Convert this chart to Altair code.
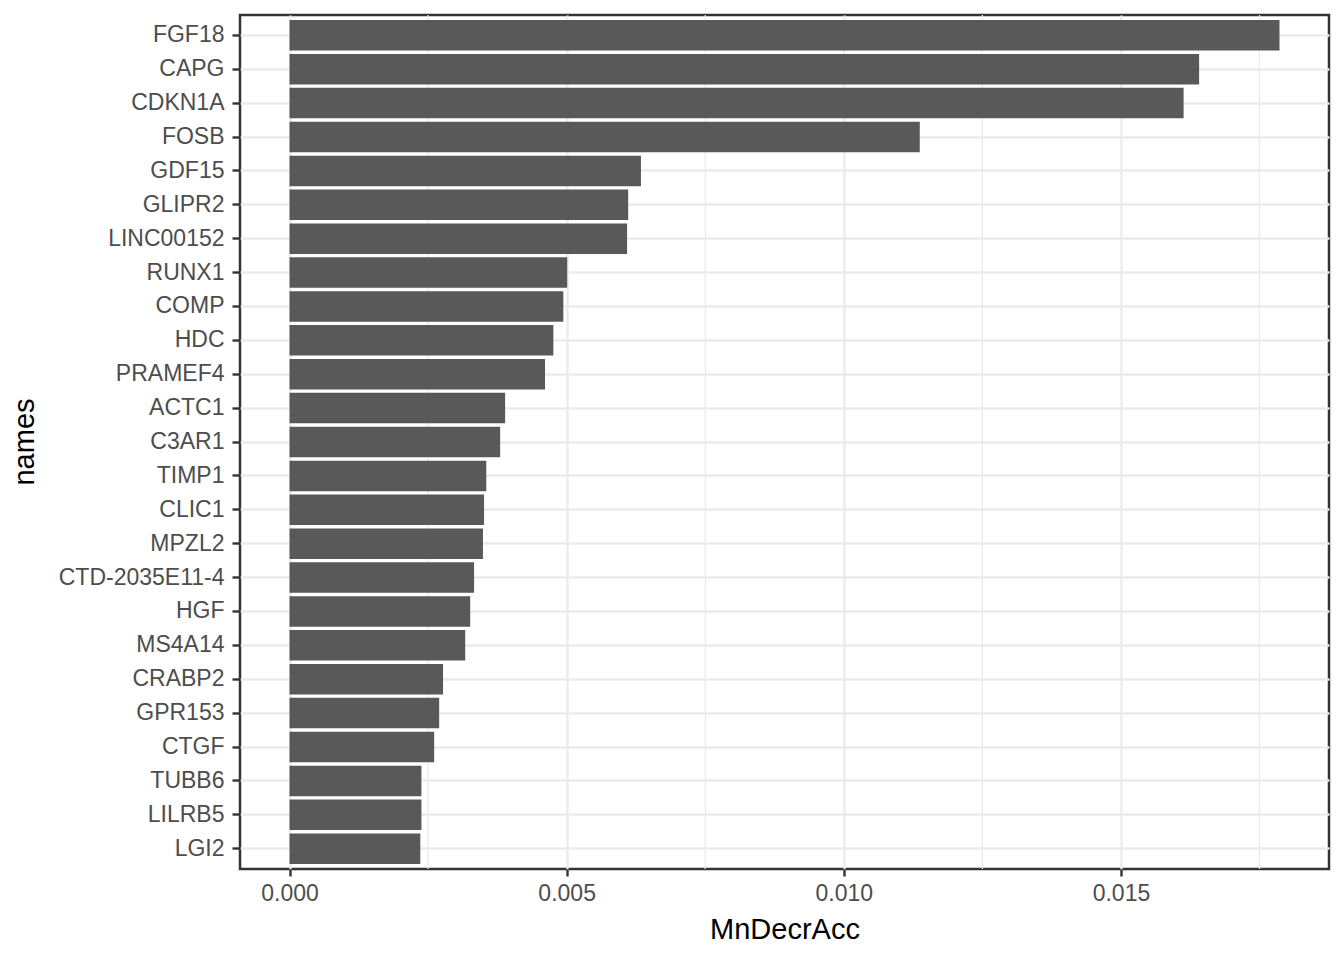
import altair as alt
import pandas as pd

names = ["FGF18", "CAPG", "CDKN1A", "FOSB", "GDF15", "GLIPR2", "LINC00152",
         "RUNX1", "COMP", "HDC", "PRAMEF4", "ACTC1", "C3AR1", "TIMP1", "CLIC1",
         "MPZL2", "CTD-2035E11-4", "HGF", "MS4A14", "CRABP2", "GPR153", "CTGF",
         "TUBB6", "LILRB5", "LGI2"]
mn_decr_acc = [0.01786, 0.01641, 0.01613, 0.01137, 0.00634, 0.00611, 0.00609,
               0.00501, 0.00494, 0.00476, 0.00461, 0.00389, 0.00380, 0.00355,
               0.00351, 0.00349, 0.00333, 0.00326, 0.00317, 0.00277, 0.00270,
               0.00261, 0.00238, 0.00238, 0.00236]
major_breaks = [0.0, 0.005, 0.010, 0.015]
minor_breaks = [0.0025, 0.0075, 0.0125, 0.0175]

df = pd.DataFrame({"names": names, "MnDecrAcc": mn_decr_acc})
minor_df = pd.DataFrame({"v": minor_breaks})

vmax = max(mn_decr_acc)
expand = 0.05 * vmax
xscale = alt.Scale(domain=[-expand, vmax + expand], nice=False, zero=False)

FONT = "Liberation Sans"

minor = alt.Chart(minor_df).mark_rule(color="#EBEBEB", strokeWidth=1.3).encode(
    x=alt.X("v:Q", scale=xscale)
)

bars = alt.Chart(df).mark_bar(color="#595959").encode(
    x=alt.X(
        "MnDecrAcc:Q",
        scale=xscale,
        axis=alt.Axis(
            values=major_breaks, format=".3f", grid=True, gridColor="#EBEBEB",
            gridWidth=2.3, domain=False, tickColor="#333333", tickWidth=2.4,
            tickSize=7, labelFont=FONT, labelFontSize=23, labelColor="#4D4D4D",
            labelPadding=6, title="MnDecrAcc", titleFont=FONT, titleFontSize=29,
            titleFontWeight="normal", titleColor="#000000", titleX=544.5,
            titleY=69.3, titleBaseline="alphabetic", titleAlign="center",
            labelFlush=False, labelOverlap=False,
        ),
    ),
    x2=alt.datum(0),
    y=alt.Y(
        "names:N",
        sort=names,
        scale=alt.Scale(paddingInner=0.1, paddingOuter=0.15),
        axis=alt.Axis(
            grid=True, gridColor="#EBEBEB", gridWidth=2.3, domain=False,
            tickColor="#333333", tickWidth=2.4, tickSize=8, labelFont=FONT,
            labelFontSize=23, labelColor="#4D4D4D", labelPadding=8,
            title="names", titleFont=FONT, titleFontSize=29,
            titleFontWeight="normal", titleColor="#000000", titleAngle=270,
            titleX=-207, titleY=426.5, titleBaseline="alphabetic",
            titleAlign="center", labelOverlap=False,
        ),
    ),
)

chart = (
    alt.layer(minor, bars)
    .properties(
        width=1089,
        height=854,
        background="white",
        autosize=alt.AutoSizeParams(type="none"),
        padding={"left": 232, "top": 7, "right": 7, "bottom": 83},
    )
    .configure_view(stroke="#333333", strokeWidth=2.5)
)

chart.save("out.html", embed_options={"renderer": "svg", "actions": False})
